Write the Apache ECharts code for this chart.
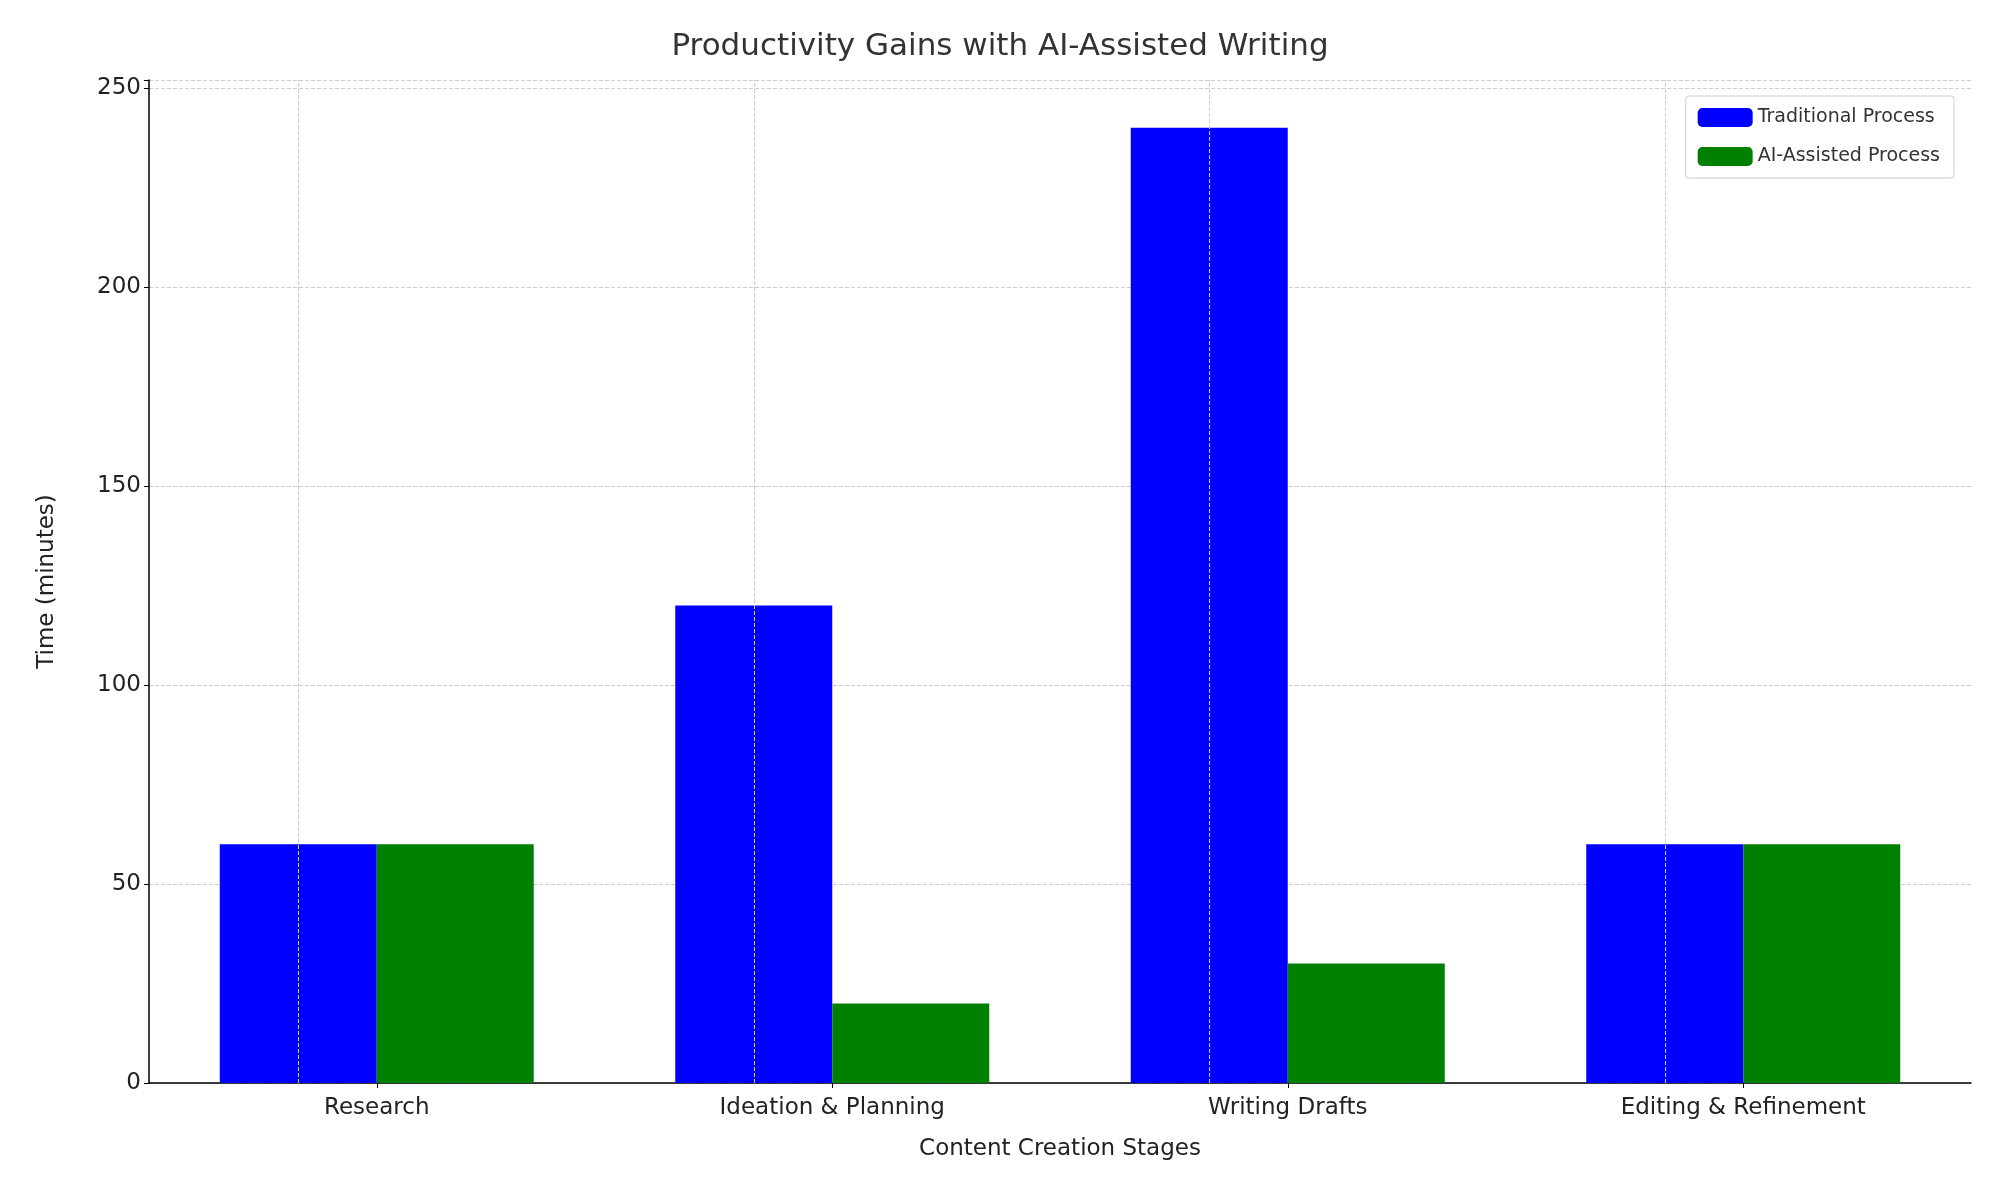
<!DOCTYPE html>
<html><head><meta charset="utf-8">
<script src="https://cdn.jsdelivr.net/npm/echarts@6/dist/echarts.min.js"></script>
<style>html,body{margin:0;padding:0;background:#fff}#c{width:2000px;height:1200px}</style>
</head><body><div id="c"></div>
<script>
const categories = ['Research', 'Ideation & Planning', 'Writing Drafts', 'Editing & Refinement'];
const traditional = [60, 120, 240, 60];
const aiAssisted = [60, 20, 30, 60];
const yTicks = [0, 50, 100, 150, 200, 250];

const font = 'DejaVu Sans';
const chart = echarts.init(document.getElementById('c'));
chart.setOption({
  animation: false,
  textStyle: {fontFamily: font},
  title: {text: 'Productivity Gains with AI-Assisted Writing', left: 'center', top: 26,
    textStyle: {fontFamily: font, fontSize: 31, fontWeight: 'normal', color: '#333'}},
  legend: {orient: 'vertical', right: 46, top: 96, itemWidth: 55, itemHeight: 19, itemGap: 20,
    padding: [12, 14, 12, 12], borderColor: '#ccc', borderWidth: 1, borderRadius: 3, backgroundColor: '#fff',
    textStyle: {fontFamily: font, fontSize: 19, color: '#333'}},
  grid: {left: 149, right: 29, top: 80, bottom: 117},
  xAxis: {type: 'category', data: categories, name: 'Content Creation Stages', nameLocation: 'middle', nameGap: 55,
    nameTextStyle: {fontFamily: font, fontSize: 23, color: '#222'},
    axisLine: {lineStyle: {color: '#000', width: 1.5}}, axisTick: {show: true, alignWithLabel: true, lineStyle: {color: '#000'}},
    axisLabel: {fontFamily: font, fontSize: 23, color: '#222', margin: 14}, splitLine: {show: false}},
  yAxis: {type: 'value', min: 0, max: 252, interval: 50, name: 'Time (minutes)', nameLocation: 'middle', nameGap: 90,
    nameTextStyle: {fontFamily: font, fontSize: 23, color: '#222'},
    axisLine: {show: true, lineStyle: {color: '#000', width: 1.5}}, axisTick: {show: true, lineStyle: {color: '#000'}},
    axisLabel: {fontFamily: font, fontSize: 23, color: '#222', formatter: v => yTicks.includes(v) ? v : ''},
    splitLine: {lineStyle: {color: '#ccc', type: 'dashed'}}},
  series: [
    {name: 'Traditional Process', type: 'bar', data: traditional, barWidth: 157, barGap: '0%', itemStyle: {color: '#0000ff'},
     markLine: {silent: true, symbol: 'none', label: {show: false}, lineStyle: {color: '#ccc', type: 'dashed', width: 1},
       data: categories.map(c => ({xAxis: c}))}, z: 1},
    {name: 'AI-Assisted Process', type: 'bar', data: aiAssisted, barWidth: 157, itemStyle: {color: '#008000'}}
  ]
});
</script></body></html>
